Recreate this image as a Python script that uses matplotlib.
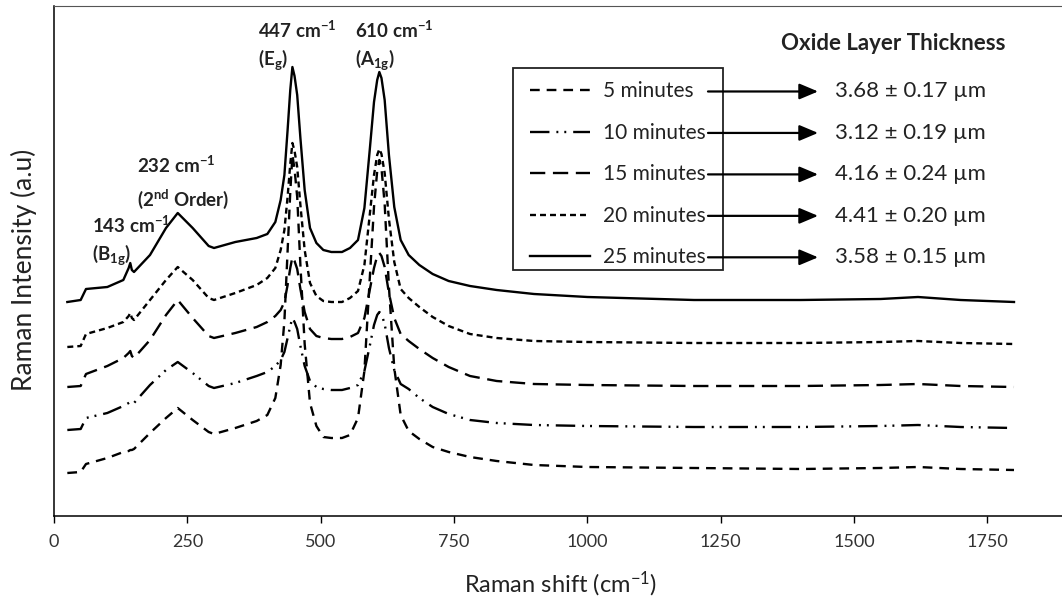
import matplotlib
matplotlib.use('Agg')
import matplotlib.pyplot as plt
from matplotlib.patches import Rectangle

plt.rcParams['font.family'] = ['Lato', 'DejaVu Sans']
plt.rcParams['mathtext.default'] = 'regular'
plt.rcParams['lines.scale_dashes'] = False

# Raman shift (cm-1) shared by all spectra
shift = [25, 50, 60, 100, 130, 140, 143, 146, 150, 180,
         210, 232, 260, 290, 300, 340, 380, 400, 415, 425,
         432, 438, 443, 447, 451, 456, 462, 470, 480, 492,
         505, 520, 540, 555, 570, 582, 592, 600, 606, 610,
         614, 620, 628, 638, 650, 665, 685, 710, 740, 780,
         830, 900, 1000, 1200, 1400, 1550, 1620, 1700, 1800]

# stacked intensities (a.u.), offset per oxidation time
int_5 = [43, 44, 52, 58, 64, 65, 66, 66, 67, 83,
         98, 108, 96, 84, 82, 88, 95, 101, 118, 151,
         195, 265, 324, 361, 347, 319, 251, 172, 113, 90,
         79, 78, 78, 81, 98, 145, 237, 309, 345, 356,
         348, 312, 229, 148, 101, 85, 77, 69, 64, 59,
         55, 51, 49, 48, 47, 48, 49, 47, 46]
int_10 = [86, 87, 98, 103, 110, 113, 114, 113, 113, 131,
          146, 154, 143, 130, 128, 133, 140, 144, 150, 156,
          164, 178, 190, 198, 194, 187, 170, 150, 135, 129,
          127, 126, 126, 128, 131, 145, 170, 191, 201, 204,
          202, 192, 168, 146, 132, 127, 118, 109, 102, 96,
          93, 91, 90, 89, 89, 90, 91, 89, 88]
int_15 = [129, 130, 142, 150, 158, 163, 165, 160, 158, 176,
          201, 216, 198, 180, 178, 183, 189, 194, 200, 206,
          214, 231, 248, 259, 255, 247, 227, 204, 187, 180,
          178, 177, 177, 179, 183, 198, 226, 248, 260, 263,
          260, 249, 223, 198, 182, 175, 167, 158, 149, 140,
          135, 132, 131, 130, 130, 131, 132, 130, 129]
int_20 = [169, 170, 182, 188, 194, 200, 203, 198, 196, 216,
          236, 249, 236, 218, 216, 223, 231, 238, 248, 266,
          286, 319, 352, 373, 365, 349, 311, 266, 233, 220,
          215, 214, 214, 218, 225, 251, 301, 341, 361, 367,
          362, 343, 297, 254, 227, 218, 209, 199, 190, 182,
          178, 175, 174, 173, 173, 174, 175, 173, 172]
int_25 = [214, 216, 227, 229, 236, 248, 253, 246, 244, 261,
          288, 303, 288, 270, 268, 274, 278, 282, 294, 316,
          341, 386, 426, 449, 440, 421, 378, 326, 288, 273,
          266, 264, 264, 268, 276, 308, 366, 414, 436, 444,
          438, 416, 361, 309, 276, 261, 251, 242, 235, 230,
          226, 222, 219, 216, 216, 217, 219, 216, 214]

times = ['5 minutes', '10 minutes', '15 minutes', '20 minutes', '25 minutes']
thickness = ['3.68 ± 0.17 µm', '3.12 ± 0.19 µm', '4.16 ± 0.24 µm',
             '4.41 ± 0.20 µm', '3.58 ± 0.15 µm']
spectra = [int_5, int_10, int_15, int_20, int_25]
styles = [(0, (7, 5)),
          (0, (14, 5, 1.4, 4.3, 1.4, 5)),
          (0, (11, 5.5)),
          (0, (4.3, 2.9)),
          '-']

fig = plt.figure(figsize=(10.62, 6.03), dpi=100)
ax = fig.add_axes([54 / 1062, 87 / 603, 1008 / 1062, 510 / 603])

for y, ls, lab in zip(spectra, styles, times):
    ax.plot(shift, y, color='black', lw=1.7, linestyle=ls, label=lab)

ax.set_xlim(0, 1890)
ax.set_ylim(0, 510)
ax.set_xticks(range(0, 1751, 250))
ax.set_yticks([])
ax.tick_params(axis='x', direction='out', length=5, width=1, labelsize=13,
               labelcolor='#333333', pad=8)
for s in ['left', 'bottom']:
    ax.spines[s].set_linewidth(1.1)
ax.spines['top'].set_color('#555555')
ax.spines['right'].set_visible(False)

ax.set_xlabel('Raman shift (cm$^{-1}$)', fontsize=17, color='#222222')
ax.xaxis.set_label_coords(0.503, -0.105)
ax.xaxis.label.set_va('top')
ax.set_ylabel('Raman Intensity (a.u)', fontsize=19, color='#222222')
ax.yaxis.set_label_coords(-0.017, 0.482)

# peak labels
peak_labels = [
    (382, 486, '447 cm$^{-1}$'), (382, 456, '(E$_{g}$)'),
    (564, 486, '610 cm$^{-1}$'), (564, 456, '(A$_{1g}$)'),
    (156, 351, '232 cm$^{-1}$'), (156, 317, '(2$^{nd}$ Order)'),
    (71, 291, '143 cm$^{-1}$'), (71, 261, '(B$_{1g}$)'),
]
for px, py, txt in peak_labels:
    ax.text(px, py, txt, fontsize=13.5, fontweight='bold', color='#222222',
            ha='left', va='center')

# legend with a separate frame
leg = ax.legend(loc='upper left', bbox_to_anchor=(0.4722, 0.852), frameon=False,
                borderaxespad=0, borderpad=0, labelspacing=1.03, handlelength=2.9,
                handletextpad=0.62, fontsize=15)
for t in leg.get_texts():
    t.set_color('#222222')
ax.add_patch(Rectangle((0.4554, 0.482), 0.2083, 0.3964, transform=ax.transAxes,
                       fill=False, edgecolor='#222222', lw=1.3, zorder=3))

fig.canvas.draw()
renderer = fig.canvas.get_renderer()
inv = ax.transAxes.inverted()
for t, val in zip(leg.get_texts(), thickness):
    bb = t.get_window_extent(renderer)
    yc = inv.transform(((bb.x0 + bb.x1) / 2, (bb.y0 + bb.y1) / 2))[1]
    ax.annotate('', xy=(0.758, yc), xytext=(0.6488, yc), xycoords='axes fraction',
                arrowprops=dict(arrowstyle='-|>,head_length=0.38,head_width=0.16',
                                mutation_scale=30, color='black', lw=1.6,
                                shrinkA=0, shrinkB=0))
    ax.text(0.7748, yc, val, transform=ax.transAxes, fontsize=16, color='#222222',
            ha='left', va='center')

ax.text(0.833, 0.927, 'Oxide Layer Thickness', transform=ax.transAxes,
        fontsize=16, fontweight='bold', color='#222222', ha='center', va='center')

fig.savefig('out.png', dpi=100)
